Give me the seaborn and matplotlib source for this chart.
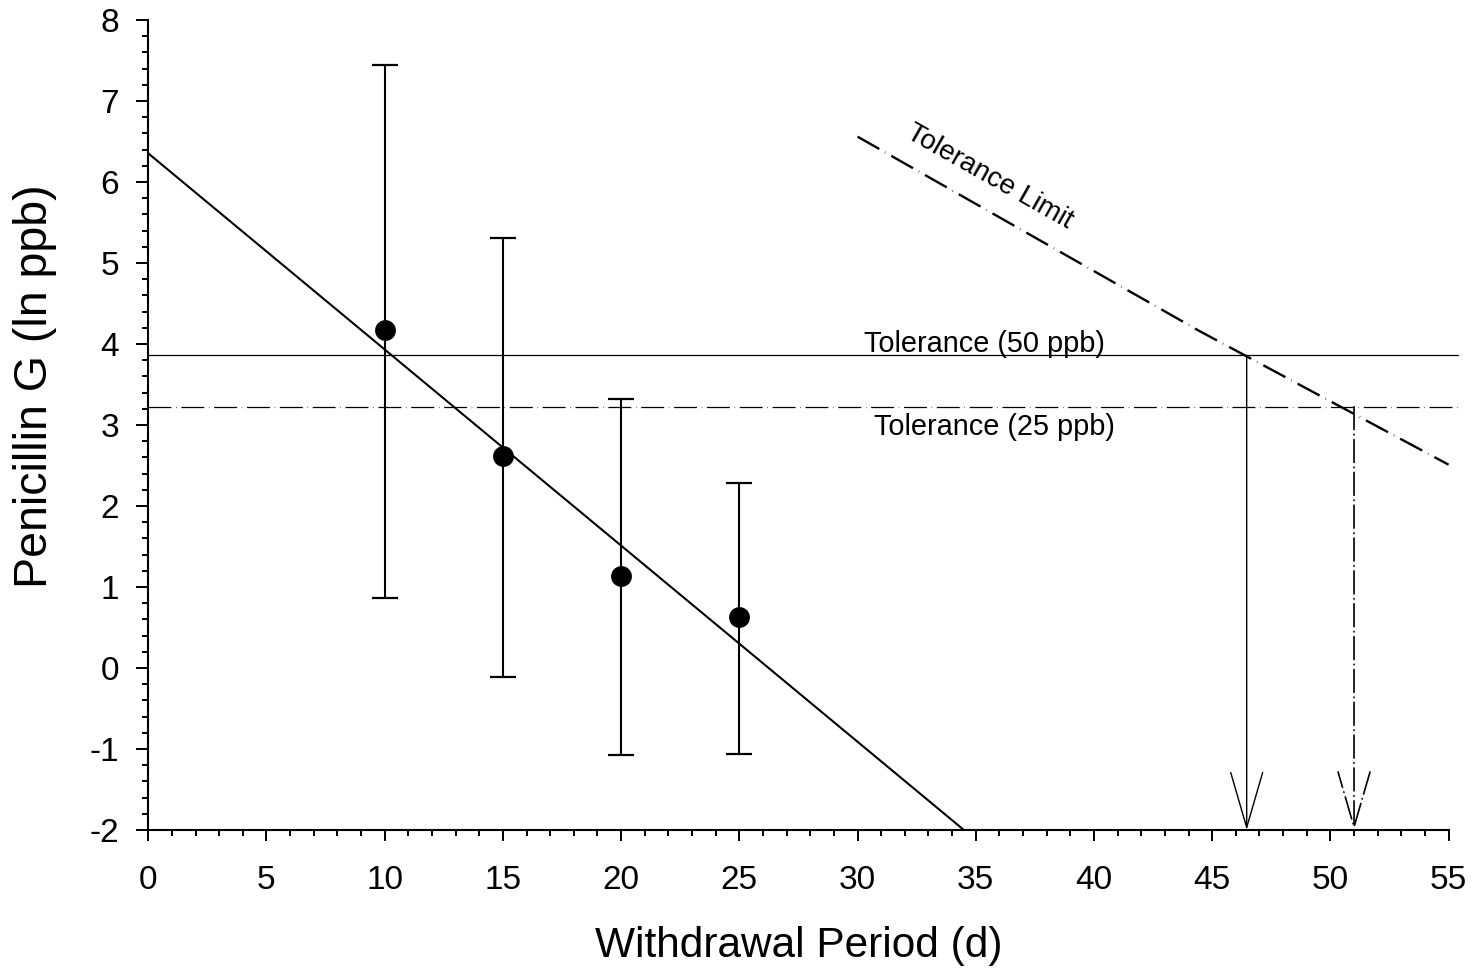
import matplotlib
matplotlib.use("Agg")
import matplotlib.pyplot as plt
import seaborn as sns
import pandas as pd
from matplotlib.ticker import MultipleLocator

# ---------------- data ----------------
days = [10, 15, 20, 25]
mean_ln = [4.17, 2.62, 1.14, 0.63]
ci_upper = [7.44, 5.31, 3.32, 2.29]
ci_lower = [0.86, -0.11, -1.08, -1.06]

reg_x = [0.0, 34.5]
reg_y = [6.354, -2.0]

tol_limit_x = [30.0, 44.4, 55.0]
tol_limit_y = [6.56, 4.17, 2.51]

tolerance_labels = ["Tolerance (50 ppb)", "Tolerance (25 ppb)"]
tolerance_ln = [3.86, 3.226]
tol_line_x = [0.0, 55.4]
withdrawal_days = [46.46, 51.0]

x_ticks = list(range(0, 60, 5))
y_ticks = list(range(-2, 9, 1))

# ---------------- style ----------------
sns.set_style("ticks")
plt.rcParams["font.family"] = ["Liberation Sans", "DejaVu Sans"]
plt.rcParams["axes.unicode_minus"] = False
plt.rcParams["lines.scale_dashes"] = False
plt.rcParams["text.color"] = "black"
plt.rcParams["axes.labelcolor"] = "black"
plt.rcParams["xtick.color"] = "black"
plt.rcParams["ytick.color"] = "black"

fig = plt.figure(figsize=(14.75, 9.69), dpi=100)
ax = fig.add_axes([0.1005, 0.14345, 0.8816, 0.83591])

# regression line
sns.lineplot(x=reg_x, y=reg_y, ax=ax, color="black", lw=1.5, sort=False)

# tolerance lines
dash_25 = (0, (16.5, 3.4, 0.35, 3.4))
sns.lineplot(x=tol_line_x, y=[tolerance_ln[0]] * 2, ax=ax, color="black", lw=0.9)
ax.lines[-1].set_clip_on(False)
ax.plot(tol_line_x, [tolerance_ln[1]] * 2, color="black", lw=0.9,
        linestyle=dash_25, clip_on=False)

# tolerance limit line
ax.plot(tol_limit_x, tol_limit_y, color="black", lw=1.7,
        linestyle=(0, (18, 4.8, 0.35, 4.8)), clip_on=False)

# error bars and points
yerr = [[m - lo for m, lo in zip(mean_ln, ci_lower)],
        [hi - m for m, hi in zip(mean_ln, ci_upper)]]
ax.errorbar(days, mean_ln, yerr=yerr, fmt="none", ecolor="black",
            elinewidth=1.5, capsize=9.4, capthick=1.6, zorder=3)
df = pd.DataFrame({"day": days, "ln": mean_ln})
sns.scatterplot(data=df, x="day", y="ln", ax=ax, color="black", s=225,
                edgecolor="black", linewidth=0, zorder=4)

# withdrawal arrows
styles = ["-", dash_25]
widths = [1.0, 1.2]
for t, tol, ls, w in zip(withdrawal_days, tolerance_ln, styles, widths):
    ax.annotate("", xy=(t, -2.0), xytext=(t, tol),
                arrowprops=dict(arrowstyle="->,head_length=3.96,head_width=1.15",
                                mutation_scale=10, lw=w, color="black",
                                linestyle=ls, shrinkA=0, shrinkB=0),
                annotation_clip=False)

# text labels
ax.text(35.38, tolerance_ln[0] + 0.045, tolerance_labels[0], fontsize=20.8,
        ha="center", va="baseline")
ax.text(35.77, tolerance_ln[1] - 0.35, tolerance_labels[1], fontsize=20.8,
        ha="center", va="baseline")
ax.text(35.6, 6.07, "Tolerance Limit", fontsize=20, rotation=-29.5,
        ha="center", va="center", rotation_mode="anchor")

# axes
ax.set_xlim(0, 55)
ax.set_ylim(-2, 8)
ax.set_xticks(x_ticks)
ax.set_yticks(y_ticks)
ax.xaxis.set_minor_locator(MultipleLocator(1))
ax.yaxis.set_minor_locator(MultipleLocator(0.2))
ax.tick_params(axis="both", which="major", direction="out", color="black",
               width=1.4, labelsize=24, labelcolor="black")
ax.tick_params(axis="x", which="major", length=8, pad=17)
ax.tick_params(axis="y", which="major", length=8.6, pad=12.5)
ax.tick_params(axis="both", which="minor", direction="out", color="black",
               width=1.4, length=4.5)
sns.despine(ax=ax)
for s in ["left", "bottom"]:
    ax.spines[s].set_linewidth(1.5)
    ax.spines[s].set_color("black")

ax.set_xlabel("Withdrawal Period (d)", fontsize=30.5)
ax.set_ylabel("Penicillin G (ln ppb)", fontsize=33.5)
ax.xaxis.set_label_coords(0.5, (969 - 946 - 0.14345 * 969) / (0.83591 * 969))
ax.yaxis.set_label_coords((35 - 148.2) / (0.8816 * 1475), (830 - 386) / 810)
ax.xaxis.label.set_va("center")
ax.yaxis.label.set_va("center")

fig.savefig("out.png", dpi=100)
